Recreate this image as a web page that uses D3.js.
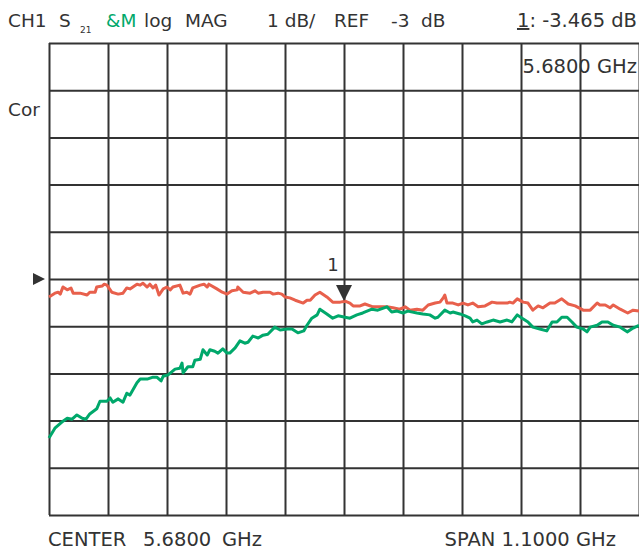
<!DOCTYPE html>
<html>
<head>
<meta charset="utf-8">
<script src="https://cdn.jsdelivr.net/npm/d3@7"></script>
<style>
  body { margin: 0; background: #fff; }
  svg { display: block; }
  text { font-family: "DejaVu Sans", Verdana, sans-serif; fill: #333; }
  .grid line, .grid path { stroke: #333; stroke-width: 2; }
</style>
</head>
<body>
<svg id="chart" width="639" height="548"></svg>
<script>
// sweep settings
const centerGHz = 5.68;
const spanGHz = 1.1;
const refDb = -3;
const dbPerDiv = 1;
const divisions = 10;

// marker 1
const markerFreq = 5.68;
const markerDb = -3.465;

// S21 memory trace (red), [GHz, dB]
const traceMem = [
  [5.130,-3.38],[5.141,-3.30],[5.147,-3.28],[5.151,-3.32],[5.156,-3.17],[5.164,-3.23],[5.171,-3.19],
  [5.175,-3.30],[5.188,-3.30],[5.201,-3.34],[5.206,-3.28],[5.216,-3.28],[5.219,-3.17],[5.229,-3.15],
  [5.233,-3.11],[5.238,-3.13],[5.247,-3.28],[5.259,-3.32],[5.268,-3.30],[5.275,-3.19],[5.281,-3.21],
  [5.294,-3.11],[5.300,-3.13],[5.305,-3.09],[5.313,-3.17],[5.318,-3.11],[5.324,-3.19],[5.329,-3.13],
  [5.335,-3.34],[5.343,-3.21],[5.350,-3.17],[5.356,-3.23],[5.361,-3.17],[5.374,-3.13],[5.380,-3.30],
  [5.387,-3.28],[5.393,-3.32],[5.398,-3.19],[5.412,-3.13],[5.419,-3.11],[5.425,-3.17],[5.428,-3.11],
  [5.443,-3.21],[5.453,-3.28],[5.462,-3.32],[5.471,-3.25],[5.481,-3.23],[5.482,-3.17],[5.492,-3.28],
  [5.505,-3.30],[5.514,-3.25],[5.520,-3.30],[5.529,-3.28],[5.542,-3.28],[5.548,-3.32],[5.557,-3.30],
  [5.564,-3.32],[5.570,-3.38],[5.579,-3.40],[5.589,-3.45],[5.604,-3.51],[5.611,-3.45],[5.617,-3.45],
  [5.626,-3.34],[5.635,-3.28],[5.648,-3.38],[5.659,-3.49],[5.673,-3.49],[5.682,-3.47],[5.691,-3.51],
  [5.697,-3.57],[5.710,-3.57],[5.719,-3.53],[5.734,-3.59],[5.747,-3.59],[5.760,-3.59],[5.771,-3.61],
  [5.784,-3.64],[5.794,-3.59],[5.803,-3.66],[5.816,-3.64],[5.827,-3.66],[5.837,-3.55],[5.850,-3.51],
  [5.859,-3.49],[5.865,-3.40],[5.868,-3.34],[5.872,-3.51],[5.883,-3.51],[5.893,-3.55],[5.902,-3.51],
  [5.911,-3.55],[5.920,-3.51],[5.930,-3.59],[5.943,-3.57],[5.956,-3.49],[5.965,-3.51],[5.975,-3.51],
  [5.984,-3.51],[5.989,-3.49],[5.995,-3.51],[6.003,-3.42],[6.014,-3.49],[6.023,-3.51],[6.032,-3.66],
  [6.042,-3.57],[6.051,-3.61],[6.064,-3.51],[6.073,-3.51],[6.086,-3.42],[6.098,-3.53],[6.111,-3.57],
  [6.126,-3.66],[6.139,-3.66],[6.152,-3.51],[6.157,-3.55],[6.167,-3.55],[6.176,-3.61],[6.182,-3.55],
  [6.195,-3.64],[6.209,-3.72],[6.219,-3.66],[6.230,-3.68]
];

// S21 data trace (green), [GHz, dB]
const traceData = [
  [5.130,-6.37],[5.141,-6.16],[5.154,-6.03],[5.164,-5.95],[5.173,-5.97],[5.182,-5.88],[5.192,-5.95],
  [5.199,-5.97],[5.206,-5.86],[5.219,-5.75],[5.225,-5.59],[5.238,-5.59],[5.244,-5.52],[5.249,-5.61],
  [5.259,-5.54],[5.268,-5.61],[5.275,-5.42],[5.281,-5.46],[5.294,-5.20],[5.300,-5.12],[5.313,-5.12],
  [5.324,-5.08],[5.331,-5.08],[5.339,-5.16],[5.343,-5.06],[5.352,-5.03],[5.365,-4.91],[5.374,-4.89],
  [5.378,-4.78],[5.380,-4.99],[5.389,-4.86],[5.398,-4.86],[5.402,-4.72],[5.412,-4.70],[5.417,-4.50],
  [5.425,-4.61],[5.430,-4.50],[5.439,-4.53],[5.445,-4.57],[5.454,-4.48],[5.462,-4.57],[5.467,-4.57],
  [5.477,-4.46],[5.486,-4.31],[5.495,-4.36],[5.501,-4.34],[5.510,-4.21],[5.520,-4.25],[5.529,-4.19],
  [5.538,-4.17],[5.551,-4.02],[5.561,-4.08],[5.574,-4.06],[5.583,-4.06],[5.594,-4.14],[5.605,-4.10],
  [5.611,-3.98],[5.620,-3.83],[5.630,-3.76],[5.635,-3.64],[5.648,-3.74],[5.659,-3.83],[5.669,-3.78],
  [5.682,-3.81],[5.691,-3.83],[5.704,-3.76],[5.715,-3.72],[5.732,-3.64],[5.743,-3.66],[5.760,-3.59],
  [5.769,-3.70],[5.779,-3.68],[5.790,-3.72],[5.799,-3.68],[5.816,-3.72],[5.827,-3.74],[5.840,-3.76],
  [5.850,-3.83],[5.855,-3.81],[5.868,-3.66],[5.878,-3.72],[5.883,-3.70],[5.896,-3.74],[5.906,-3.78],
  [5.915,-3.83],[5.920,-3.91],[5.928,-3.87],[5.937,-3.95],[5.947,-3.91],[5.958,-3.87],[5.971,-3.91],
  [5.984,-3.87],[5.993,-3.91],[6.003,-3.76],[6.012,-3.83],[6.023,-3.91],[6.032,-4.02],[6.045,-4.06],
  [6.058,-4.10],[6.068,-3.91],[6.077,-3.91],[6.086,-3.81],[6.096,-3.81],[6.105,-3.91],[6.114,-4.02],
  [6.126,-4.06],[6.133,-4.12],[6.139,-4.02],[6.152,-3.98],[6.161,-3.91],[6.172,-3.91],[6.182,-3.98],
  [6.195,-4.02],[6.208,-4.12],[6.219,-4.04],[6.230,-3.98]
];

const svg = d3.select("#chart");
const gLeft = 49, gRight = 639, gTop = 43, gBottom = 515;
const redColor = "#e8604c", greenColor = "#00a86b";

const fStart = centerGHz - spanGHz / 2, fStop = centerGHz + spanGHz / 2;
const x = d3.scaleLinear().domain([fStart, fStop]).range([gLeft, gRight]);
const yTop = refDb + dbPerDiv * divisions / 2, yBot = refDb - dbPerDiv * divisions / 2;
const y = d3.scaleLinear().domain([yBot, yTop]).range([gBottom, gTop]);

const xTicks = d3.range(divisions + 1).map(i => fStart + i * spanGHz / divisions);
const yTicks = d3.range(divisions + 1).map(i => yBot + i * dbPerDiv);

// graticule
svg.append("g")
  .attr("class", "grid")
  .attr("transform", `translate(0,${gBottom})`)
  .call(d3.axisBottom(x).tickValues(xTicks).tickSize(-(gBottom - gTop)).tickSizeOuter(0).tickFormat(""))
  .call(g => g.select(".domain").remove());

svg.append("g")
  .attr("class", "grid")
  .attr("transform", `translate(${gLeft},0)`)
  .call(d3.axisLeft(y).tickValues(yTicks).tickSize(-(gRight - gLeft)).tickSizeOuter(0).tickFormat(""))
  .call(g => g.select(".domain").remove());

// traces
const line = d3.line().x(d => x(d[0])).y(d => y(d[1]));
svg.append("path")
  .datum(traceMem)
  .attr("d", line)
  .attr("fill", "none")
  .attr("stroke", redColor)
  .attr("stroke-width", 3)
  .attr("stroke-linejoin", "round");

svg.append("path")
  .datum(traceData)
  .attr("d", line)
  .attr("fill", "none")
  .attr("stroke", greenColor)
  .attr("stroke-width", 3)
  .attr("stroke-linejoin", "round");

// reference level pointer
const ry = y(refDb);
svg.append("path")
  .attr("d", `M33,${ry - 6}L45,${ry}L33,${ry + 6}Z`)
  .attr("fill", "#333");

// marker 1
const mx = x(markerFreq), my = y(markerDb);
svg.append("path")
  .attr("d", `M${mx - 8},${my - 16}L${mx + 8},${my - 16}L${mx},${my}Z`)
  .attr("fill", "#333");
svg.append("text")
  .attr("x", mx - 11).attr("y", my - 30)
  .attr("text-anchor", "middle")
  .style("font-size", "18px")
  .text("1");

// header
const header = svg.append("g").style("font-size", "18.5px");
const hy = 27;
header.append("text").attr("x", 8).attr("y", hy).text("CH1");
header.append("text").attr("x", 59).attr("y", hy).text("S");
header.append("text").attr("x", 80).attr("y", hy + 6).style("font-size", "9px").text("21");
header.append("text").attr("x", 106).attr("y", hy).style("fill", greenColor).text("&M");
header.append("text").attr("x", 144).attr("y", hy).text("log");
header.append("text").attr("x", 185).attr("y", hy).text("MAG");
header.append("text").attr("x", 267).attr("y", hy).text("1 dB/");
header.append("text").attr("x", 334).attr("y", hy).text("REF");
header.append("text").attr("x", 391).attr("y", hy).text("-3");
header.append("text").attr("x", 421).attr("y", hy).text("dB");
const mk = header.append("text").attr("x", 637).attr("y", hy).attr("text-anchor", "end")
  .style("font-size", "19.5px");
mk.append("tspan").style("text-decoration", "underline").text("1");
mk.append("tspan").text(": " + markerDb.toFixed(3) + " dB");

// marker frequency readout
svg.append("text")
  .attr("x", 637).attr("y", 73)
  .attr("text-anchor", "end")
  .style("font-size", "19.5px")
  .text(markerFreq.toFixed(4) + " GHz");

svg.append("text")
  .attr("x", 8).attr("y", 116)
  .style("font-size", "18.5px")
  .text("Cor");

// footer
const footer = svg.append("g").style("font-size", "19.5px");
footer.append("text").attr("x", 48).attr("y", 546).text("CENTER");
footer.append("text").attr("x", 143).attr("y", 546).text(centerGHz.toFixed(4));
footer.append("text").attr("x", 222).attr("y", 546).text("GHz");
footer.append("text").attr("x", 616).attr("y", 546).attr("text-anchor", "end")
  .text("SPAN " + spanGHz.toFixed(4) + " GHz");
</script>
</body>
</html>
